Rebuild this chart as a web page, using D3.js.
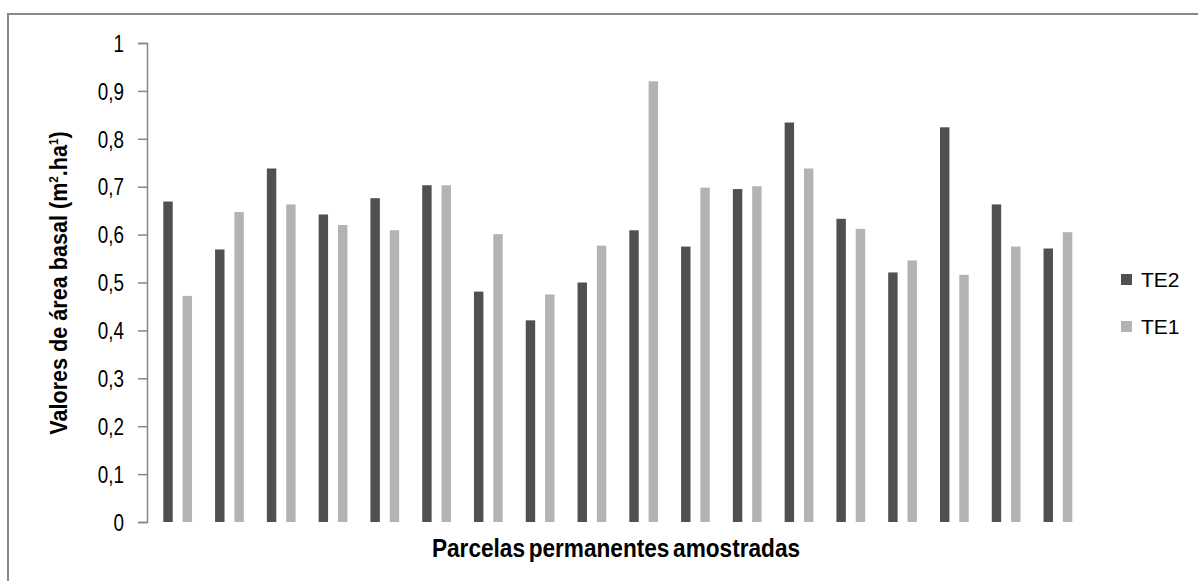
<!DOCTYPE html>
<html><head><meta charset="utf-8">
<script src="https://cdn.jsdelivr.net/npm/d3@7"></script>
<style>
html,body{margin:0;padding:0;background:#fff;}
svg{display:block;}
</style></head>
<body>
<svg id="c" width="1198" height="581"></svg>
<script>
const categories = ["1","2","3","4","5","6","7","8","9","10","11","12","13","14","15","16","17","18"];
const seriesNames = ["TE2","TE1"];
const te2 = [0.669,0.569,0.738,0.642,0.676,0.703,0.481,0.421,0.500,0.609,0.575,0.695,0.834,0.633,0.521,0.824,0.663,0.571];
const te1 = [0.472,0.647,0.663,0.620,0.609,0.703,0.601,0.475,0.577,0.920,0.698,0.701,0.738,0.612,0.546,0.516,0.575,0.605];
const yTicks = [0,0.1,0.2,0.3,0.4,0.5,0.6,0.7,0.8,0.9,1];
const colors = {TE2:"#505050", TE1:"#b3b3b3"};

const svg = d3.select("#c");
const font = "'Liberation Sans',Arial,sans-serif";

// outer frame
svg.append("rect").attr("x",8).attr("y",14).attr("width",1200).attr("height",600)
  .attr("fill","none").attr("stroke","#888").attr("stroke-width",2);

const x = d3.scaleBand().domain(categories).range([147,1079]);
const y = d3.scaleLinear().domain([0,1]).range([522,43]);
const bw = x.bandwidth();
const offs = {TE2:0.315, TE1:0.688};
const wFrac = 0.182;

const data = categories.map((c,i)=>({c, TE2:te2[i], TE1:te1[i]}));

seriesNames.forEach(s=>{
  svg.append("g").selectAll("rect").data(data).join("rect")
    .attr("x",d=>x(d.c)+offs[s]*bw)
    .attr("width",wFrac*bw)
    .attr("y",d=>y(d[s]))
    .attr("height",d=>y(0)-y(d[s]))
    .attr("fill",colors[s]);
});

// y axis
const yAxis = d3.axisLeft(y).tickValues(yTicks).tickSize(9).tickPadding(14)
  .tickFormat(d=>String(d).replace(".",","));
const ga = svg.append("g").attr("transform","translate(147,0)").call(yAxis);
ga.select(".domain").attr("stroke","#868686").attr("stroke-width",1.5);
ga.selectAll(".tick line").attr("stroke","#868686").attr("stroke-width",1.5);
ga.selectAll(".tick text").attr("font-family",font).attr("font-size",23).attr("fill","#000")
  .attr("x",0).attr("dy","0.36em").attr("transform","translate(-23,0) scale(0.82,1)");

// y title
const yt = svg.append("text").attr("transform","translate(67,283) rotate(-90) scale(0.9,1)")
  .attr("text-anchor","middle").attr("font-family",font).attr("font-weight","bold")
  .attr("font-size",24).attr("fill","#000");
yt.append("tspan").text("Valores de área basal (m");
yt.append("tspan").attr("font-size",13).attr("dy",-9).text("2");
yt.append("tspan").attr("dy",9).text(".ha");
yt.append("tspan").attr("font-size",13).attr("dy",-9).text("1");
yt.append("tspan").attr("dy",9).text(")");

// x title
svg.append("text").attr("transform","translate(616,557) scale(0.87,1)").attr("text-anchor","middle")
  .attr("font-family",font).attr("font-weight","bold").attr("font-size",26)
  .attr("word-spacing",-3)
  .attr("fill","#000").text("Parcelas permanentes amostradas");

// legend
const lg = svg.append("g");
seriesNames.forEach((s,i)=>{
  const cy = 279 + i*47;
  lg.append("rect").attr("x",1121).attr("y",cy-5).attr("width",11).attr("height",11).attr("fill",colors[s]);
  lg.append("text").attr("x",1141).attr("y",cy+8).attr("font-family",font)
    .attr("font-size",21).attr("fill","#000").text(s);
});
</script>
</body></html>
